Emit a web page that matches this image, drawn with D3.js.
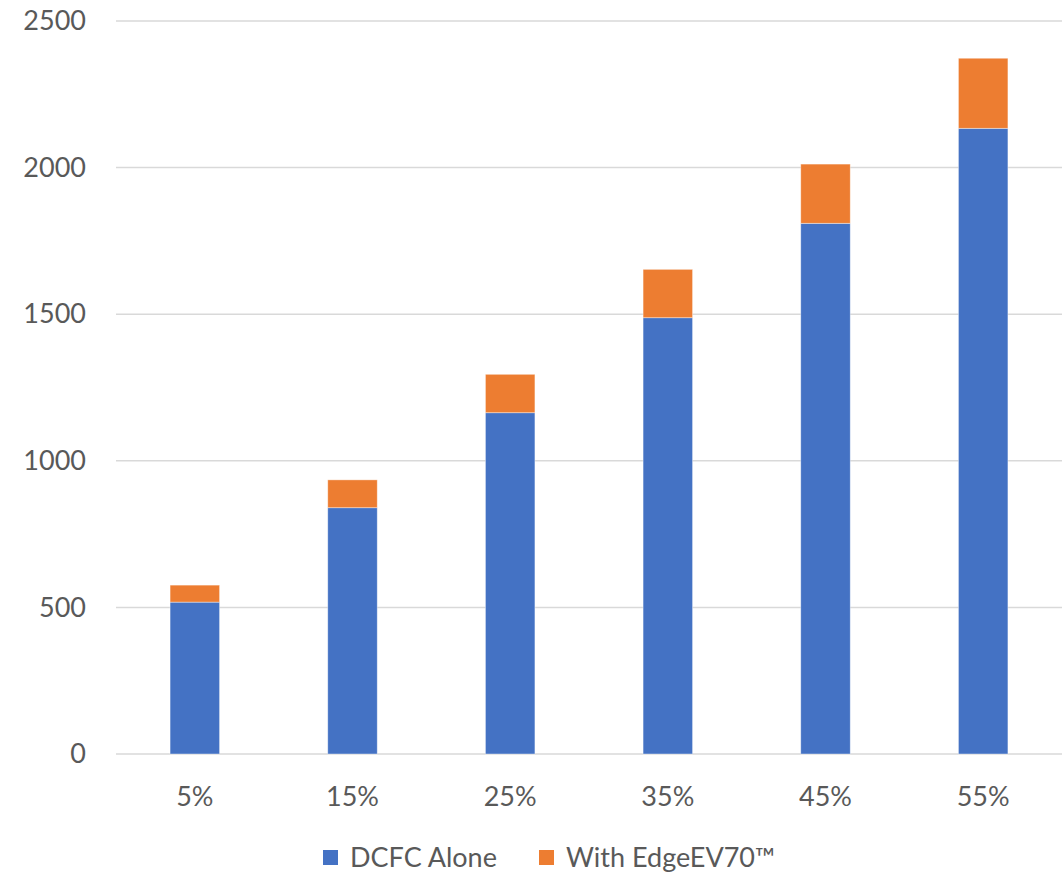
<!DOCTYPE html>
<html>
<head>
<meta charset="utf-8">
<script src="https://cdn.jsdelivr.net/npm/d3@7"></script>
<style>
  html, body { margin: 0; padding: 0; background: #fff; }
  svg { display: block; }
  text { font-family: Lato, "Open Sans", sans-serif; fill: #595959; }
</style>
</head>
<body>
<svg id="chart" width="1064" height="874"></svg>
<script>
// Share categories
const categories = ["5%", "15%", "25%", "35%", "45%", "55%"];
// DCFC alone (bottom segment)
const dcfcAlone = [518, 840, 1164, 1488, 1810, 2134];
// Additional amount with EdgeEV70 (top segment)
const withEdge = [58, 95, 131, 165, 202, 239];
// Y axis ticks
const yTicks = [0, 500, 1000, 1500, 2000, 2500];

const seriesNames = ["DCFC Alone", "With EdgeEV70™"];
const colors = ["#4472C4", "#ED7D31"];

const svg = d3.select("#chart");
const margin = { left: 116, right: 2, top: 21, bottom: 120 };
const W = 1064, H = 874;

const x = d3.scaleBand()
  .domain(categories)
  .range([margin.left, W - margin.right])
  .paddingInner(0.686)
  .paddingOuter(0.343);

const y = d3.scaleLinear()
  .domain([0, 2500])
  .range([754, 21]);

// Gridlines
svg.append("g")
  .selectAll("line")
  .data(yTicks)
  .join("line")
  .attr("x1", margin.left)
  .attr("x2", W - margin.right)
  .attr("y1", d => y(d))
  .attr("y2", d => y(d))
  .attr("stroke", "#D9D9D9")
  .attr("stroke-width", 1.5);

// Y axis labels
const yAxis = d3.axisLeft(y).tickValues(yTicks).tickFormat(d3.format("d")).tickSize(0).tickPadding(0);
const gy = svg.append("g").attr("transform", "translate(86,0)").call(yAxis);
gy.select(".domain").remove();
gy.selectAll("text")
  .attr("font-size", 27)
  .attr("font-family", "Lato, 'Open Sans', sans-serif")
  .attr("fill", "#595959");

// Stacked data
const rows = categories.map((c, i) => ({ cat: c, a: dcfcAlone[i], b: withEdge[i] }));
const stack = d3.stack().keys(["a", "b"]);
const layers = stack(rows);

svg.append("g")
  .selectAll("g")
  .data(layers)
  .join("g")
  .attr("fill", (d, i) => colors[i])
  .selectAll("rect")
  .data(d => d)
  .join("rect")
  .attr("x", d => x(d.data.cat))
  .attr("width", x.bandwidth())
  .attr("y", d => y(d[1]))
  .attr("height", d => y(d[0]) - y(d[1]))
  .attr("stroke", "rgba(255,255,255,0.5)")
  .attr("stroke-width", 0.8);

// X axis labels
const xAxis = d3.axisBottom(x).tickSize(0).tickPadding(0);
const gx = svg.append("g").attr("transform", "translate(0,787)").call(xAxis);
gx.select(".domain").remove();
gx.selectAll("text")
  .attr("font-size", 27)
  .attr("font-family", "Lato, 'Open Sans', sans-serif")
  .attr("fill", "#595959");

// Legend
const legendItems = [
  { name: seriesNames[0], color: colors[0], x: 323 },
  { name: seriesNames[1], color: colors[1], x: 539 }
];
const lg = svg.append("g");
legendItems.forEach(it => {
  lg.append("rect")
    .attr("x", it.x).attr("y", 850)
    .attr("width", 15).attr("height", 15)
    .attr("fill", it.color);
  lg.append("text")
    .attr("x", it.x + 27).attr("y", 857.5)
    .attr("dy", "0.36em")
    .attr("font-size", 27)
    .text(it.name);
});
</script>
</body>
</html>
